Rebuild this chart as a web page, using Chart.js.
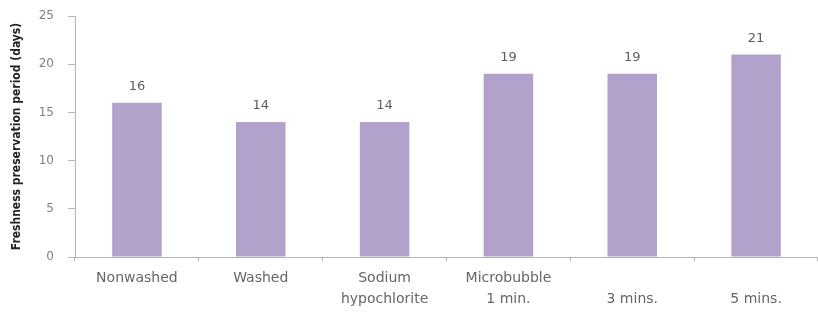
<!DOCTYPE html>
<html>
<head>
<meta charset="utf-8">
<script src="https://cdn.jsdelivr.net/npm/chart.js@4"></script>
<style>
    html, body { margin: 0; padding: 0; background: #fff; }
    #wrap { width: 818px; height: 316px; }
</style>
</head>
<body>
<div id="wrap"><canvas id="chart" width="818" height="316"></canvas></div>
<script>
// Freshness preservation period per treatment
const categories = [
    'Nonwashed',
    'Washed',
    ['Sodium', 'hypochlorite'],
    ['Microbubble', '1 min.'],
    ['', '3 mins.'],
    ['', '5 mins.']
];
const days = [16, 14, 14, 19, 19, 21];
const yTicks = [0, 5, 10, 15, 20, 25];

const axisColor = '#b4b4b4';
const textColor = '#666666';

// draw the value above each bar
const valueLabels = {
    id: 'valueLabels',
    afterDatasetsDraw(chart) {
        const ctx = chart.ctx;
        const meta = chart.getDatasetMeta(0);
        ctx.save();
        ctx.font = '13px "DejaVu Sans", sans-serif';
        ctx.fillStyle = '#5e5e5e';
        ctx.textAlign = 'center';
        ctx.textBaseline = 'middle';
        meta.data.forEach((bar, i) => {
            ctx.fillText(String(days[i]), bar.x, bar.y - 16);
        });
        ctx.restore();
    }
};

new Chart(document.getElementById('chart'), {
    type: 'bar',
    data: {
        labels: categories,
        datasets: [{
            data: days,
            backgroundColor: '#b2a1cb',
            borderWidth: 0,
            categoryPercentage: 1,
            barPercentage: 0.4
        }]
    },
    options: {
        responsive: false,
        animation: false,
        layout: { padding: { top: 16, right: 0, left: 0, bottom: 0 } },
        plugins: {
            legend: { display: false },
            tooltip: { enabled: false }
        },
        scales: {
            x: {
                grid: {
                    display: true,
                    offset: true,
                    drawOnChartArea: false,
                    drawTicks: true,
                    tickLength: 4,
                    color: axisColor
                },
                border: { color: axisColor, width: 1 },
                ticks: {
                    color: textColor,
                    font: { family: '"DejaVu Sans", sans-serif', size: 14, lineHeight: 1.5 },
                    padding: 7,
                    maxRotation: 0,
                    autoSkip: false
                },
                afterFit(scale) { scale.height = 59; }
            },
            y: {
                min: 0,
                max: 25,
                afterBuildTicks(scale) {
                    scale.ticks = yTicks.map(v => ({ value: v }));
                },
                grid: {
                    display: true,
                    drawOnChartArea: false,
                    drawTicks: true,
                    tickLength: 7,
                    color: axisColor
                },
                border: { color: axisColor, width: 1 },
                ticks: {
                    color: '#808080',
                    font: { family: '"DejaVu Sans", sans-serif', size: 12 },
                    padding: 14
                },
                title: {
                    display: true,
                    text: 'Freshness preservation period (days)',
                    color: '#222222',
                    font: { family: '"DejaVu Sans Condensed", "Liberation Sans Narrow", sans-serif', size: 12, weight: 'bold' },
                    padding: { top: 10, bottom: 0 }
                },
                afterFit(scale) {
                    scale.width = 75;
                    // tick padding would otherwise push the plot down
                    scale.paddingTop = 6;
                    scale.paddingBottom = 6;
                }
            }
        }
    },
    plugins: [valueLabels]
});
</script>
</body>
</html>
